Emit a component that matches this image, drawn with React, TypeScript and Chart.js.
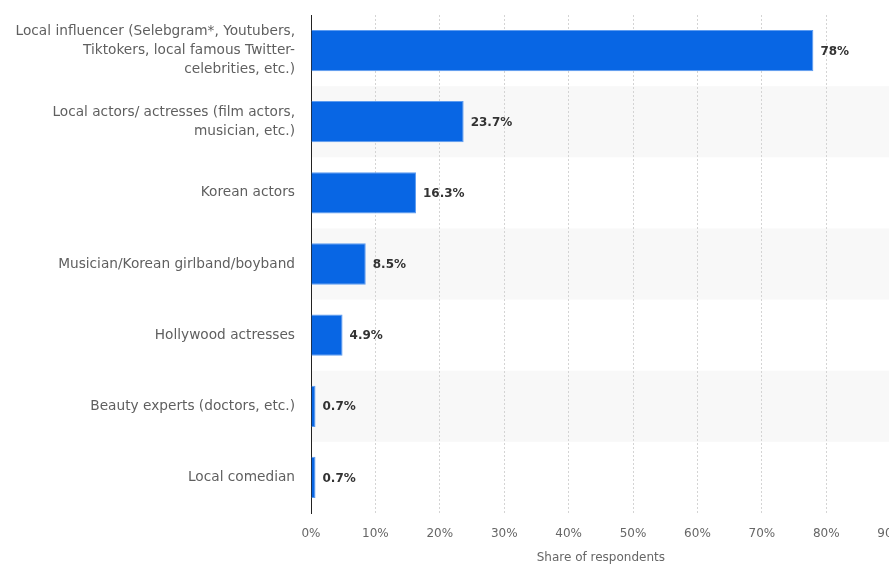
import React, { useEffect, useRef } from "react";
import { Chart, registerables } from "chart.js";

Chart.register(...registerables);

const categories: (string | string[])[] = [
  ["Local influencer (Selebgram*, Youtubers,", "Tiktokers, local famous Twitter-", "celebrities, etc.)"],
  ["Local actors/ actresses (film actors,", "musician, etc.)"],
  "Korean actors",
  "Musician/Korean girlband/boyband",
  "Hollywood actresses",
  "Beauty experts (doctors, etc.)",
  "Local comedian",
];
const shares: number[] = [78, 23.7, 16.3, 8.5, 4.9, 0.7, 0.7];
const valueLabels: string[] = ["78%", "23.7%", "16.3%", "8.5%", "4.9%", "0.7%", "0.7%"];
const tickMax = 90;
const tickStep = 10;
const axisTitle = "Share of respondents";

const FONT = "'DejaVu Sans', sans-serif";

const rowBands = {
  id: "rowBands",
  beforeDraw(chart: any) {
    const { ctx, chartArea, scales } = chart;
    const y = scales.y;
    const n = y.ticks.length;
    if (n < 2) return;
    const band = Math.abs(y.getPixelForValue(1) - y.getPixelForValue(0));
    ctx.save();
    ctx.fillStyle = "#f8f8f8";
    for (let i = 1; i < n; i += 2) {
      const c = y.getPixelForValue(i);
      ctx.fillRect(chartArea.left, c - band / 2, chart.width - chartArea.left, band);
    }
    ctx.restore();
  },
};

const valueLabelPlugin = {
  id: "valueLabels",
  afterDatasetsDraw(chart: any) {
    const { ctx } = chart;
    const meta = chart.getDatasetMeta(0);
    ctx.save();
    ctx.font = `bold 12px ${FONT}`;
    ctx.fillStyle = "#333333";
    ctx.textAlign = "left";
    ctx.textBaseline = "middle";
    meta.data.forEach((bar: any, i: number) => {
      ctx.fillText(valueLabels[i], bar.x + 7, bar.y + 1);
    });
    ctx.restore();
  },
};

export default function App() {
  const ref = useRef<HTMLCanvasElement | null>(null);
  useEffect(() => {
    if (!ref.current) return;
    const chart = new Chart(ref.current, {
      type: "bar",
      data: {
        labels: categories,
        datasets: [
          {
            data: shares,
            backgroundColor: "#0866e4",
            borderColor: "#5d9cf0",
            borderWidth: 1,
            barPercentage: 0.58,
            categoryPercentage: 1,
          },
        ],
      },
      options: {
        indexAxis: "y",
        animation: false,
        responsive: false,
        maintainAspectRatio: false,
        layout: { padding: { top: 15, left: 0, right: 0, bottom: 0 } },
        plugins: {
          legend: { display: false },
          tooltip: { enabled: false },
        },
        scales: {
          x: {
            min: 0,
            max: tickMax,
            ticks: {
              stepSize: tickStep,
              callback: (v: any) => `${v}%`,
              color: "#666666",
              font: { family: FONT, size: 12 },
              padding: 14,
            },
            grid: { color: "#d4d4d4", drawTicks: false, lineWidth: 1 },
            border: { display: false, dash: [2, 2] },
            title: {
              display: true,
              text: axisTitle,
              color: "#666666",
              font: { family: FONT, size: 12 },
              padding: { top: 6, bottom: 1 },
            },
            afterFit: (s: any) => {
              s.height = 53;
            },
          },
          y: {
            ticks: {
              color: "#5f5f5f",
              font: { family: FONT, size: 13.7, lineHeight: 1.36 },
              padding: 16,
              autoSkip: false,
            },
            grid: { display: false, drawTicks: false },
            border: { display: true, color: "#222222", width: 1 },
            afterFit: (s: any) => {
              s.width = 311;
              s.paddingTop = 0;
              s.paddingBottom = 0;
            },
          },
        },
      },
      plugins: [rowBands, valueLabelPlugin],
    });
    return () => chart.destroy();
  }, []);
  return (
    <div style={{ position: "fixed", left: 0, top: 0, width: 889, height: 566, overflow: "hidden", background: "#fff" }}>
      <canvas ref={ref} width={918} height={566} style={{ display: "block" }} />
    </div>
  );
}
